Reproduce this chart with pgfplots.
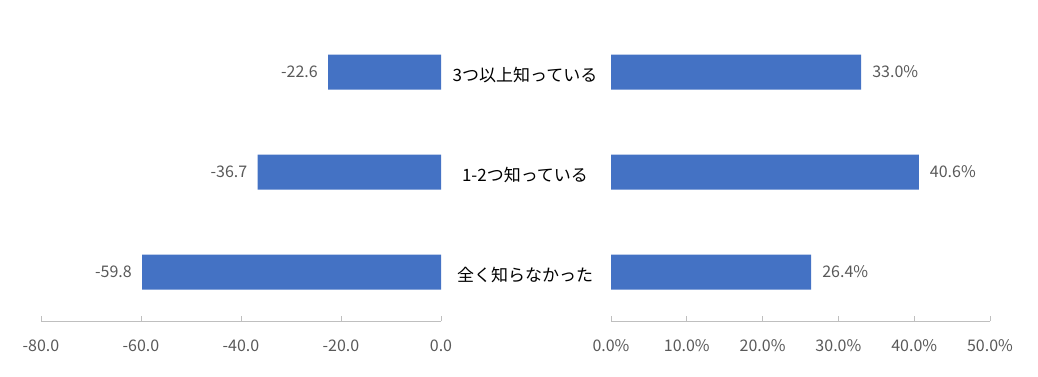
\documentclass[border=0pt]{standalone}
\usepackage{pgfplots}
\pgfplotsset{compat=1.18}
\usepackage{fontspec}
\setmainfont{Noto Sans CJK JP}
\definecolor{barblue}{HTML}{4472C4}
\definecolor{tickgray}{HTML}{595959}
\definecolor{axisgray}{HTML}{BFBFBF}
\pgfplotsset{
  common/.style={
    scale only axis, height=299pt, ymin=0.51, ymax=3.5,
    xbar, bar width=35pt, clip=false,
    axis x line*=bottom,
    axis line style={axisgray, line width=1pt},
    tick align=inside, major tick length=5pt,
    x tick style={axisgray, line width=1pt},
    /pgf/number format/assume math mode=true,
    xticklabel style={font=\fontsize{16}{18}\selectfont, text=tickgray, yshift=-15pt},
    every node near coord/.append style={font=\fontsize{16}{18}\selectfont, text=tickgray, inner sep=0pt},
  }
}
\begin{document}
\begin{tikzpicture}
\path[use as bounding box] (0pt,0pt) rectangle (1038pt,376pt);
% left axis
\begin{axis}[common, at={(41pt,55pt)}, anchor=south west, width=400pt,
  xmin=-80, xmax=0, xtick={-80,-60,-40,-20,0},
  axis y line=none,
  xticklabel style={/pgf/number format/.cd, fixed, fixed zerofill, precision=1},
  nodes near coords={\pgfmathprintnumber[fixed,fixed zerofill,precision=1]{\pgfplotspointmeta}},
  every node near coord/.append style={anchor=east, xshift=-10pt},
]
\addplot[fill=barblue, draw=none] coordinates {(-22.6,3) (-36.7,2) (-59.8,1)};
\end{axis}
% right axis
\begin{axis}[common, at={(611pt,55pt)}, anchor=south west, width=379pt,
  xmin=0, xmax=50, xtick={0,10,20,30,40,50},
  axis y line*=left, y axis line style={draw=none}, y tick style={draw=none},
  ytick={1,2,3}, yticklabels={全く知らなかった, 1-2つ知っている, 3つ以上知っている},
  yticklabel style={anchor=center, xshift=-86pt, yshift=-3pt, font=\fontsize{17}{19}\selectfont, text=black},
  xticklabel={\pgfmathprintnumber[fixed,fixed zerofill,precision=1]{\tick}\%},
  nodes near coords={\pgfmathprintnumber[fixed,fixed zerofill,precision=1]{\pgfplotspointmeta}\%},
  every node near coord/.append style={anchor=west, xshift=11pt},
]
\addplot[fill=barblue, draw=none] coordinates {(33.0,3) (40.6,2) (26.4,1)};
\end{axis}
\end{tikzpicture}
\end{document}
